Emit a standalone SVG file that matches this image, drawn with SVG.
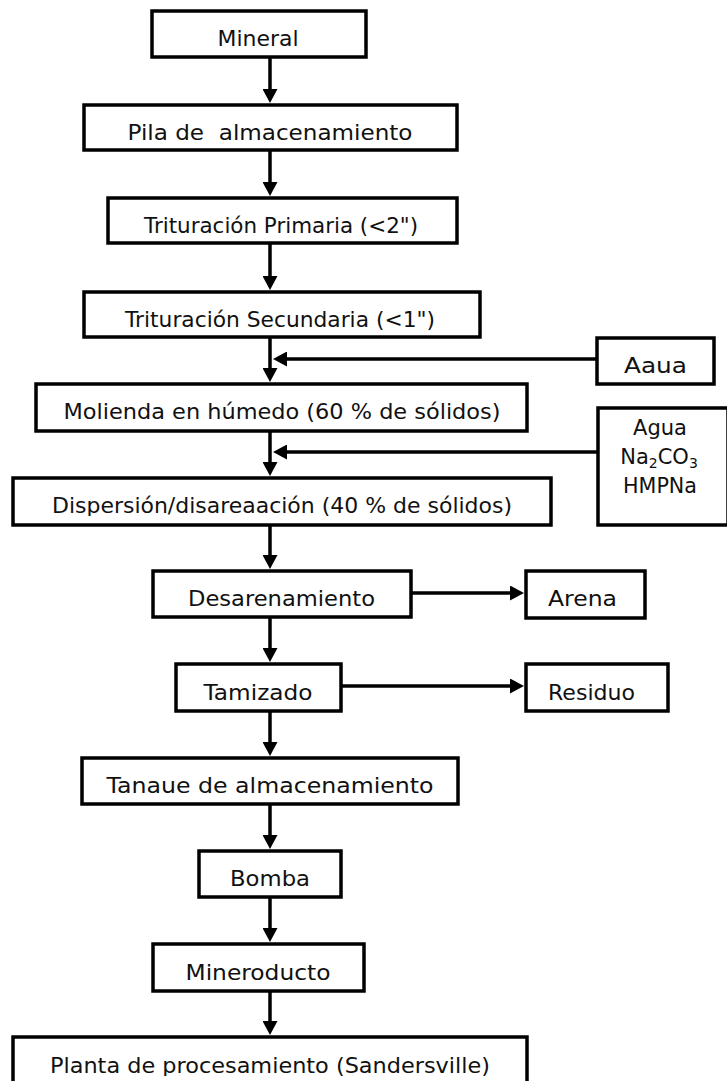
<svg xmlns="http://www.w3.org/2000/svg" width="727" height="1081" viewBox="0 0 727 1081">
  <style>
    .box { fill: #ffffff; stroke: #000000; stroke-width: 3.5; }
    .lbl { font-family: "DejaVu Sans", "Liberation Sans", sans-serif; font-size: 21px; fill: #111111; text-anchor: middle; }
    .sub { font-size: 14px; }
    .flow { fill: none; stroke: #000000; stroke-width: 3.5; }
  </style>
  <defs>
    <marker id="arrow" viewBox="0 0 14 15" refX="6" refY="7.5" markerWidth="14" markerHeight="15" markerUnits="userSpaceOnUse" orient="auto">
      <path d="M0,0 L14,7.5 L0,15 Z" fill="#000000"/>
    </marker>
    <!-- labels whose lower part is cut off by their box -->
    <clipPath id="clip-agua"><rect x="597" y="338" width="117" height="38"/></clipPath>
    <clipPath id="clip-disp"><rect x="13" y="478" width="538" height="38"/></clipPath>
    <clipPath id="clip-tanque"><rect x="82" y="758" width="376" height="38"/></clipPath>
    <clipPath id="clip-planta"><rect x="13" y="1037" width="514" height="39"/></clipPath>
  </defs>

  <!-- connectors -->
  <g id="connectors">
    <line class="flow" x1="270" y1="57" x2="270" y2="95" marker-end="url(#arrow)"/>
    <line class="flow" x1="270" y1="150" x2="270" y2="188" marker-end="url(#arrow)"/>
    <line class="flow" x1="270" y1="243" x2="270" y2="282" marker-end="url(#arrow)"/>
    <line class="flow" x1="270" y1="337" x2="270" y2="374" marker-end="url(#arrow)"/>
    <line class="flow" x1="597" y1="359" x2="281" y2="359" marker-end="url(#arrow)"/>
    <line class="flow" x1="270" y1="431" x2="270" y2="468" marker-end="url(#arrow)"/>
    <line class="flow" x1="598" y1="452" x2="281" y2="452" marker-end="url(#arrow)"/>
    <line class="flow" x1="270" y1="525" x2="270" y2="561" marker-end="url(#arrow)"/>
    <line class="flow" x1="411" y1="593" x2="516" y2="593" marker-end="url(#arrow)"/>
    <line class="flow" x1="270" y1="617" x2="270" y2="654" marker-end="url(#arrow)"/>
    <line class="flow" x1="341" y1="686" x2="516" y2="686" marker-end="url(#arrow)"/>
    <line class="flow" x1="270" y1="711" x2="270" y2="748" marker-end="url(#arrow)"/>
    <line class="flow" x1="270" y1="804" x2="270" y2="841" marker-end="url(#arrow)"/>
    <line class="flow" x1="270" y1="897" x2="270" y2="934" marker-end="url(#arrow)"/>
    <line class="flow" x1="270" y1="991" x2="270" y2="1027" marker-end="url(#arrow)"/>
  </g>

  <g id="mineral">
    <rect class="box" x="152" y="11" width="214" height="46"/>
    <text class="lbl" x="258" y="46" textLength="81" lengthAdjust="spacingAndGlyphs">Mineral</text>
  </g>
  <g id="pila">
    <rect class="box" x="84" y="105" width="373" height="45"/>
    <text class="lbl" x="270" y="140" textLength="285" lengthAdjust="spacingAndGlyphs" xml:space="preserve">Pila de  almacenamiento</text>
  </g>
  <g id="trituracion-primaria">
    <rect class="box" x="108" y="198" width="349" height="45"/>
    <text class="lbl" x="281" y="233" textLength="274" lengthAdjust="spacingAndGlyphs">Trituración Primaria (&lt;2")</text>
  </g>
  <g id="trituracion-secundaria">
    <rect class="box" x="84" y="292" width="396" height="45"/>
    <text class="lbl" x="280" y="327" textLength="310" lengthAdjust="spacingAndGlyphs">Trituración Secundaria (&lt;1")</text>
  </g>
  <g id="agua-1">
    <rect class="box" x="597" y="338" width="117" height="46"/>
    <text class="lbl" x="655.5" y="373" textLength="63" lengthAdjust="spacingAndGlyphs" clip-path="url(#clip-agua)">Aaua</text>
  </g>
  <g id="molienda">
    <rect class="box" x="36" y="384" width="491" height="47"/>
    <text class="lbl" x="282" y="419" textLength="437" lengthAdjust="spacingAndGlyphs">Molienda en húmedo (60 % de sólidos)</text>
  </g>
  <g id="reactivos">
    <rect class="box" x="598" y="408" width="130" height="117"/>
    <text class="lbl" x="660" y="435">Agua</text>
    <text class="lbl" x="659" y="464">Na<tspan class="sub" dy="4">2</tspan><tspan dy="-4">CO</tspan><tspan class="sub" dy="4">3</tspan></text>
    <text class="lbl" x="660" y="493" textLength="74" lengthAdjust="spacingAndGlyphs">HMPNa</text>
  </g>
  <g id="dispersion">
    <rect class="box" x="13" y="478" width="538" height="47"/>
    <text class="lbl" x="282" y="513" textLength="460" lengthAdjust="spacingAndGlyphs" clip-path="url(#clip-disp)">Dispersión/disareaación (40 % de sólidos)</text>
  </g>
  <g id="desarenamiento">
    <rect class="box" x="153" y="571" width="258" height="46"/>
    <text class="lbl" x="281.5" y="606" textLength="187" lengthAdjust="spacingAndGlyphs">Desarenamiento</text>
  </g>
  <g id="arena">
    <rect class="box" x="526" y="571" width="119" height="47"/>
    <text class="lbl" x="582.5" y="606" textLength="69" lengthAdjust="spacingAndGlyphs">Arena</text>
  </g>
  <g id="tamizado">
    <rect class="box" x="176" y="664" width="165" height="47"/>
    <text class="lbl" x="258" y="700" textLength="109" lengthAdjust="spacingAndGlyphs">Tamizado</text>
  </g>
  <g id="residuo">
    <rect class="box" x="526" y="664" width="142" height="47"/>
    <text class="lbl" x="591.5" y="700" textLength="87" lengthAdjust="spacingAndGlyphs">Residuo</text>
  </g>
  <g id="tanque">
    <rect class="box" x="82" y="758" width="376" height="46"/>
    <text class="lbl" x="270" y="793" textLength="327" lengthAdjust="spacingAndGlyphs" clip-path="url(#clip-tanque)">Tanaue de almacenamiento</text>
  </g>
  <g id="bomba">
    <rect class="box" x="199" y="851" width="142" height="46"/>
    <text class="lbl" x="270" y="886" textLength="80" lengthAdjust="spacingAndGlyphs">Bomba</text>
  </g>
  <g id="mineroducto">
    <rect class="box" x="153" y="944" width="211" height="47"/>
    <text class="lbl" x="258" y="980" textLength="145" lengthAdjust="spacingAndGlyphs">Mineroducto</text>
  </g>
  <g id="planta">
    <rect class="box" x="13" y="1037" width="514" height="50"/>
    <text class="lbl" x="270" y="1073" textLength="440" lengthAdjust="spacingAndGlyphs" clip-path="url(#clip-planta)">Planta de procesamiento (Sandersville)</text>
  </g>
</svg>
